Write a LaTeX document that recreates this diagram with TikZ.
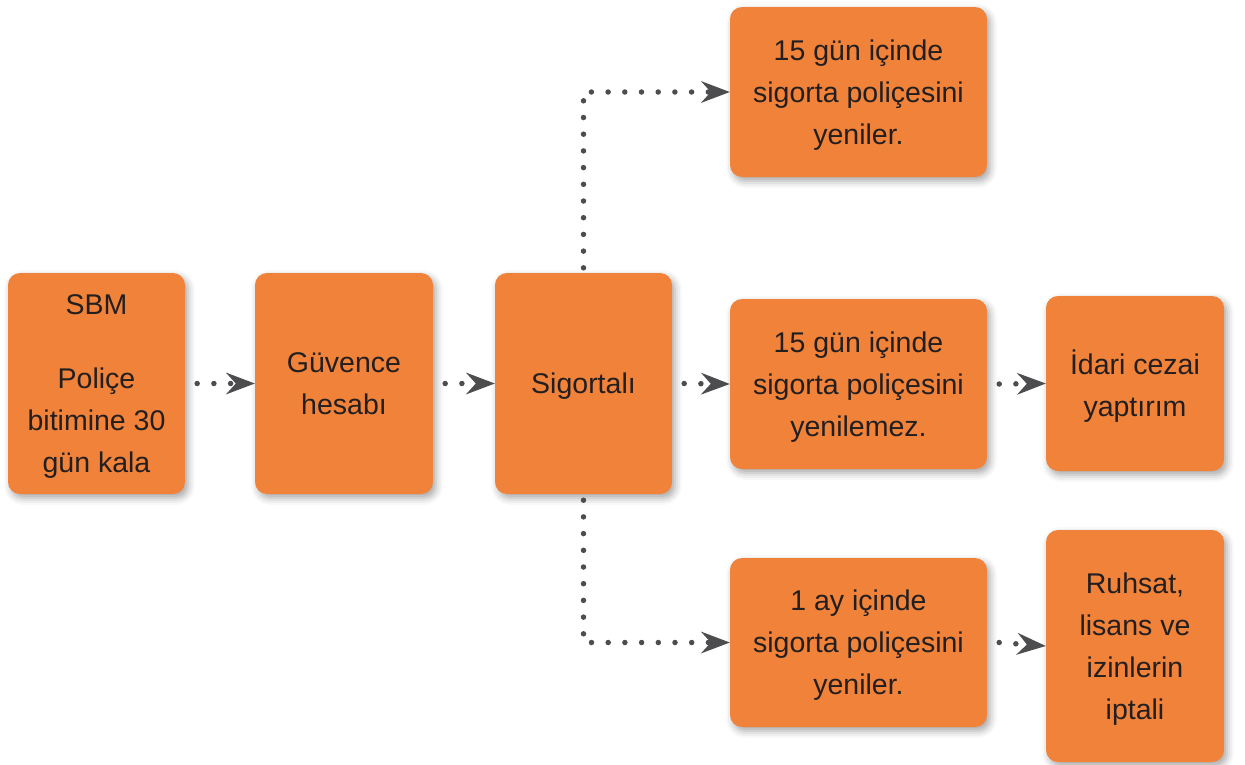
\documentclass[tikz,border=0pt]{standalone}
\usepackage{fontspec}
\setmainfont{Liberation Sans}
\usetikzlibrary{arrows.meta,shadows.blur}
\definecolor{boxor}{RGB}{240,130,58}
\definecolor{txt}{RGB}{35,31,32}
\definecolor{ag}{RGB}{77,77,79}
\tikzset{
  box/.style={fill=boxor, draw=none, rounded corners=12pt, align=center, inner sep=0pt,
    text=txt, font=\fontsize{28.5}{42}\selectfont, text depth=0pt,
    blur shadow={shadow xshift=3pt, shadow yshift=-4pt, shadow blur radius=7pt, shadow opacity=35}},
  conn/.style={draw=ag, line width=5.5pt, line cap=round, dash pattern=on 0pt off 16.7pt,
    -{Stealth[length=29pt,width=22pt,inset=10pt,line width=0pt]}}
}
\begin{document}
\begin{tikzpicture}[x=1pt,y=-1pt]
\useasboundingbox (0,0) rectangle (1245,764);
\node[box, minimum width=177pt, minimum height=221pt] (sbm) at (96.5,383.5)
  {SBM\\[32pt]Poliçe\\bitimine 30\\gün kala};
\node[box, minimum width=178pt, minimum height=221pt] (guv) at (344,383.5) {Güvence\\hesabı};
\node[box, minimum width=177pt, minimum height=221pt] (sig) at (583.5,383.5) {Sigortalı};
\node[box, minimum width=257pt, minimum height=170pt] (top) at (858.5,92) {15 gün içinde\\sigorta poliçesini\\yeniler.};
\node[box, minimum width=257pt, minimum height=170pt] (mid) at (858.5,384) {15 gün içinde\\sigorta poliçesini\\yenilemez.};
\node[box, minimum width=257pt, minimum height=169pt] (bot) at (858.5,642.5) {1 ay içinde\\sigorta poliçesini\\yeniler.};
\node[box, minimum width=178pt, minimum height=175pt] (ida) at (1135,383.5) {İdari cezai\\yaptırım};
\node[box, minimum width=178pt, minimum height=232pt] (ruh) at (1135,646) {Ruhsat,\\lisans ve\\izinlerin\\iptali};
\draw[conn] ([xshift=12pt]sbm.east) -- (guv.west);
\draw[conn] ([xshift=12pt]guv.east) -- (sig.west);
\draw[conn] ([xshift=12pt]sig.east) -- (mid.west);
\draw[conn] ([xshift=12pt]mid.east) -- (ida.west);
\draw[conn] ([xshift=12pt]bot.east) -- (ruh.west);
\draw[conn] ([yshift=5pt]sig.north) |- (top.west);
\draw[conn] ([yshift=-6pt]sig.south) |- (bot.west);
\end{tikzpicture}
\end{document}
